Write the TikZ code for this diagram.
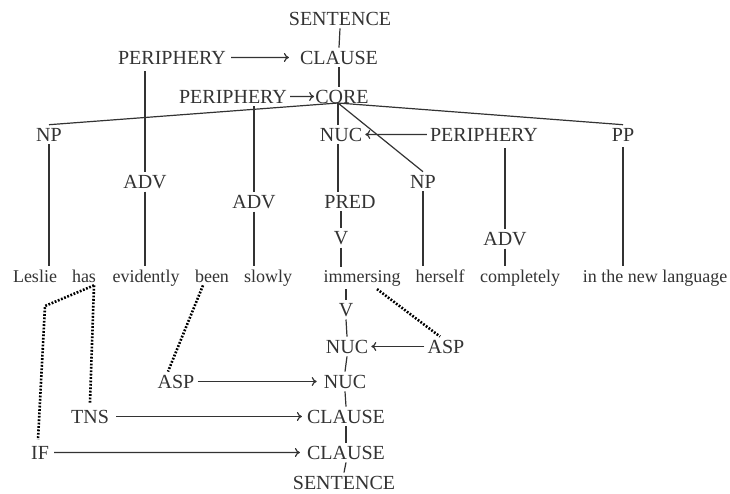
\documentclass[tikz,border=0pt]{standalone}
\usepackage{fontspec}
\setmainfont{Liberation Serif}
\usetikzlibrary{arrows.meta}
\definecolor{ink}{HTML}{333333}
\begin{document}
\begin{tikzpicture}[x=1pt,y=-1pt,
  lab/.style={anchor=base,inner sep=3pt,font=\fontsize{20}{22}\selectfont,text=ink},
  wrd/.style={anchor=base,inner sep=3pt,font=\fontsize{18}{20}\selectfont,text=ink},
  edge/.style={draw=ink,line width=1.2pt},
  arr/.style={edge,-{To[length=5pt,width=9pt]}},
  dots/.style={draw=black,line width=2.6pt,dash pattern=on 1.8pt off 1.6pt}
]
\fill[white] (0,0) rectangle (730,493);
\useasboundingbox (0,0) rectangle (730,493);

% upper tree
\node[lab] (s1) at (340,25) {SENTENCE};
\node[lab] (c1) at (339,64) {CLAUSE};
\node[lab] (p1) at (172,64) {PERIPHERY};
\node[lab] (core) at (342,103) {CORE};
\node[lab] (p2) at (233,103) {PERIPHERY};
\node[lab] (npl) at (49,141) {NP};
\node[lab] (nuc) at (341,141) {NUC};
\node[lab] (p3) at (484,141) {PERIPHERY};
\node[lab] (pp) at (623,141) {PP};
\node[lab] (adv1) at (145,188) {ADV};
\node[lab] (npm) at (423,188) {NP};
\node[lab] (adv2) at (254,208) {ADV};
\node[lab] (pred) at (350,208) {PRED};
\node[lab] (v1) at (341,244) {V};
\node[lab] (adv3) at (505,245) {ADV};

% words
\node[wrd] (les) at (35,282) {Leslie};
\node[wrd] (has) at (84,282) {has};
\node[wrd] (evid) at (146,282) {evidently};
\node[wrd] (been) at (212,282) {been};
\node[wrd] (slow) at (268,282) {slowly};
\node[wrd] (imm) at (362,282) {immersing};
\node[wrd] (her) at (440,282) {herself};
\node[wrd] (comp) at (520,282) {completely};
\node[wrd] (lang) at (655,282) {in the new language};

% lower tree
\node[lab] (v2) at (346,316) {V};
\node[lab] (nuc2) at (347,353) {NUC};
\node[lab] (asp1) at (446,353) {ASP};
\node[lab] (nuc3) at (345,388) {NUC};
\node[lab] (asp2) at (176,388) {ASP};
\node[lab] (c2) at (346,423) {CLAUSE};
\node[lab] (tns) at (90,423) {TNS};
\node[lab] (c3) at (346,459) {CLAUSE};
\node[lab] (if) at (40,459) {IF};
\node[lab] (s2) at (344,489) {SENTENCE};

% upper connectors
\draw[edge] (s1.south) -- (c1.north);
\draw[edge] (c1.south) -- (c1.south |- core.north);
\draw[arr,shorten >=8pt,shorten <=2pt] (p1.east) -- (c1.west);
\draw[arr,shorten >=-2pt] (p2.east) -- (core.west);
\coordinate (cb) at ([xshift=-4pt]core.base);
\draw[edge] (npl.north) -- (cb) -- (pp.north);
\draw[edge] (cb) -- (cb |- nuc.north);
\draw[edge] (cb) -- (npm.north);
\draw[arr] (p3.west) -- (nuc.east);
\draw[edge] (nuc.south -| cb) -- (cb |- pred.north);
\draw[edge] (pred.south -| v1) -- (v1.north);
\draw[edge] (v1.south) -- (v1.south |- imm.north);
\draw[edge] (npl.south) -- (npl.south |- les.north);
\draw[edge,shorten <=4pt] (p1.south -| adv1) -- (adv1.north);
\draw[edge] (adv1.south) -- (adv1.south |- evid.north);
\draw[edge] (p2.south -| adv2) -- (adv2.north);
\draw[edge] (adv2.south) -- (adv2.south |- slow.north);
\draw[edge] (npm.south) -- (npm.south |- her.north);
\draw[edge,shorten <=4pt] (p3.south -| adv3) -- (adv3.north);
\draw[edge] (adv3.south) -- (adv3.south |- comp.north);
\draw[edge,shorten <=3pt] (pp.south) -- (pp.south |- lang.north);

% lower connectors
\draw[edge] (v2.north |- imm.south) -- (v2.north);
\draw[edge] (v2.south) -- (nuc2.north);
\draw[edge] (nuc2.south) -- (nuc3.north);
\draw[edge] (nuc3.south) -- (c2.north);
\draw[edge] (c2.south) -- (c3.north);
\draw[edge] (c3.south) -- (s2.north);
\draw[arr] (asp1.west) -- (nuc2.east);
\draw[arr,shorten >=4pt] (asp2.east) -- (nuc3.west);
\draw[arr,shorten >=2pt,shorten <=4pt] (tns.east) -- (c2.west);
\draw[arr,shorten >=4pt,shorten <=2pt] (if.east) -- (c3.west);

% dotted links
\draw[dots] ([xshift=15pt]imm.south) -- ([xshift=-6pt]asp1.north);
\draw[dots] ([xshift=-9pt]been.south) -- ([xshift=-8pt]asp2.north);
\coordinate (h) at ([xshift=10pt]has.south);
\coordinate (bend) at (45,306);
\draw[dots] (h) -- ([yshift=4pt]tns.north);
\draw[dots] (h) -- (bend) -- ([xshift=-2pt,yshift=3pt]if.north);
\end{tikzpicture}
\end{document}
